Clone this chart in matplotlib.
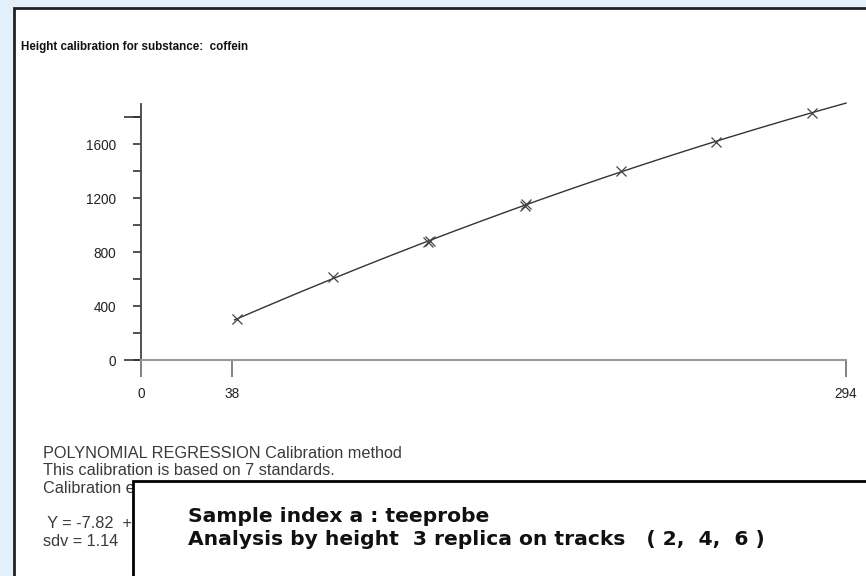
import numpy as np
import matplotlib
matplotlib.use('Agg')
import matplotlib.pyplot as plt
from matplotlib.patches import Rectangle

# --- date ---
x_std = [40.0, 80.2, 119.8, 120.5, 160.1, 160.7, 200.0, 239.6, 279.9]
y_std = [301, 617, 872, 884, 1143, 1153, 1400, 1617, 1832]
x_ticks = [0, 38, 294]
y_ticks = [0, 200, 400, 600, 800, 1000, 1200, 1400, 1600, 1800]
y_tick_labels = ['0', '', '400', '', '800', '', '1200', '', '1600', '']

title = 'Height calibration for substance:  coffein'
info_lines = ['POLYNOMIAL REGRESSION Calibration method',
              'This calibration is based on 7 standards.',
              'Calibration equation:']
eq_lines = [' Y = -7.82  +', 'sdv = 1.14']
box_lines = ['Sample index a : teeprobe',
             'Analysis by height  3 replica on tracks   ( 2,  4,  6 )']

plt.rcParams['font.family'] = ['Liberation Sans', 'DejaVu Sans']

W, H = 866, 576
fig = plt.figure(figsize=(W / 100, H / 100), dpi=100)
fig.patch.set_facecolor('#e3eff9')


def fx(px):
    return px / W


def fy(py):
    return 1 - py / H


# pagina alba (iese din imagine la dreapta si jos)
fig.patches.append(Rectangle((fx(14), fy(700)), fx(900), (700 - 8) / H, transform=fig.transFigure,
                             facecolor='white', edgecolor='#222222', linewidth=2, zorder=-5))

# axa
ax = fig.add_axes([fx(141), fy(360), fx(846) - fx(141), fy(103.5) - fy(360)])
ax.set_facecolor('none')
ax.set_xlim(0, 294)
ax.set_ylim(0, 1900)

coef = np.polyfit(x_std, y_std, 2)
xc = np.linspace(39, 294, 200)
ax.plot(xc, np.polyval(coef, xc), color='#333333', linewidth=1.0, clip_on=False)
ax.plot(x_std, y_std, linestyle='none', marker='x', markersize=7.5, markeredgewidth=0.9, color='#444444')

for s in ['top', 'right']:
    ax.spines[s].set_visible(False)
ax.spines['left'].set_color('#444444')
ax.spines['left'].set_linewidth(1.3)
ax.spines['bottom'].set_color('#999999')
ax.spines['bottom'].set_linewidth(1.5)

ax.set_yticks(y_ticks)
ax.set_yticklabels(y_tick_labels)
ax.set_yticks([0, 1800], minor=True)
ax.yaxis.remove_overlapping_locs = False
ax.tick_params(axis='y', which='major', length=6, width=1.2, color='#333333', pad=12,
               labelsize=9.8, labelcolor='#222222')
ax.tick_params(axis='y', which='minor', length=12.5, width=1.2, color='#333333')

ax.set_xticks(x_ticks)
ax.set_xticklabels([str(v) for v in x_ticks])
ax.tick_params(axis='x', length=12.5, width=1.3, color='#777777', pad=7,
               labelsize=9.8, labelcolor='#222222')

# texte
fig.text(fx(21), fy(47), title, fontsize=8.4, fontweight='bold', va='center', color='#111111')
for i, t in enumerate(info_lines):
    fig.text(fx(43), fy(453 + 17.5 * i), t, fontsize=11.7, va='center', color='#3a3a3a')
for i, t in enumerate(eq_lines):
    fig.text(fx(43), fy(524 + 17.5 * i), t, fontsize=11.7, va='center', color='#3a3a3a')

# caseta suprapusa
fig.patches.append(Rectangle((fx(133), fy(700)), fx(900), (700 - 481) / H, transform=fig.transFigure,
                             facecolor='white', edgecolor='black', linewidth=2, zorder=5))
for i, t in enumerate(box_lines):
    fig.text(fx(188), fy(517 + 22.5 * i), t, fontsize=14.6, fontweight='bold', va='center',
             color='#111111', zorder=6, family=['DejaVu Sans'])

fig.savefig('out.png', dpi=100, facecolor=fig.get_facecolor())
